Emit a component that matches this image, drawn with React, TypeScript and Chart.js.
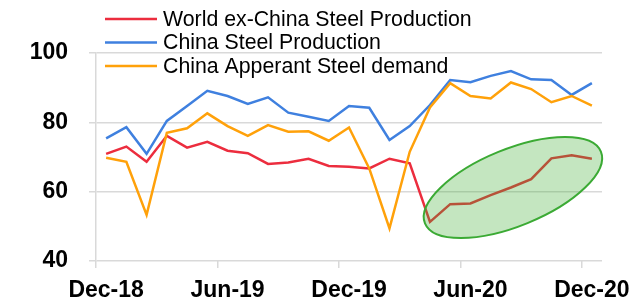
import React, { useEffect, useRef } from "react";
import { Chart, registerables } from "chart.js";

Chart.register(...registerables);

const months = [
  "Dec-18", "Jan-19", "Feb-19", "Mar-19", "Apr-19", "May-19", "Jun-19",
  "Jul-19", "Aug-19", "Sep-19", "Oct-19", "Nov-19", "Dec-19",
  "Jan-20", "Feb-20", "Mar-20", "Apr-20", "May-20", "Jun-20",
  "Jul-20", "Aug-20", "Sep-20", "Oct-20", "Nov-20", "Dec-20",
];

const worldExChina = [
  70.9, 73.0, 68.6, 76.1, 72.7, 74.4, 71.8, 71.1, 68.0, 68.4, 69.5, 67.4, 67.2,
  66.7, 69.5, 68.2, 51.3, 56.4, 56.6, 59.0, 61.2, 63.6, 69.6, 70.5, 69.5,
];

const chinaProduction = [
  75.4, 78.6, 70.9, 80.4, 84.7, 89.1, 87.6, 85.3, 87.2, 82.8, 81.6, 80.4, 84.7,
  84.2, 74.9, 78.9, 85.0, 92.2, 91.6, 93.4, 94.8, 92.4, 92.2, 87.9, 91.3,
];

const chinaDemand = [
  69.8, 68.6, 53.3, 77.0, 78.3, 82.6, 78.9, 76.1, 79.2, 77.3, 77.4, 74.7, 78.5,
  66.7, 49.4, 71.5, 84.3, 91.3, 87.6, 86.9, 91.5, 89.6, 85.8, 87.6, 84.8,
];

const seriesNames = [
  "World ex-China Steel Production",
  "China Steel Production",
  "China Apperant Steel demand",
];

const yTicks = [40, 60, 80, 100];

// highlighted region (centre in data coordinates)
const highlightCenterIndex = 20.1;
const highlightCenterValue = 61.2;

const FONT = "'Liberation Sans', Arial, sans-serif";
const RED = "#EC2D3E";
const BLUE = "#3F80DF";
const ORANGE = "#FFA10A";
const GRID = "#d9d9d9";

const ellipsePlugin = {
  id: "highlightEllipse",
  afterDatasetsDraw(chart: any) {
    const { ctx, scales } = chart;
    const cx = scales.x.getPixelForValue(highlightCenterIndex);
    const cy = scales.y.getPixelForValue(highlightCenterValue);
    ctx.save();
    ctx.beginPath();
    ctx.ellipse(cx, cy, 95, 38.5, (-22.2 * Math.PI) / 180, 0, Math.PI * 2);
    ctx.fillStyle = "rgba(60,172,45,0.3)";
    ctx.fill();
    ctx.lineWidth = 2;
    ctx.strokeStyle = "#3BAA34";
    ctx.stroke();
    ctx.restore();
  },
};

const legendPlugin = {
  id: "overlayLegend",
  afterDraw(chart: any) {
    const { ctx } = chart;
    ctx.save();
    chart.data.datasets.forEach((ds: any, i: number) => {
      const y = 19 + i * 23.5;
      ctx.beginPath();
      ctx.moveTo(105, y);
      ctx.lineTo(157, y);
      ctx.lineWidth = 2.5;
      ctx.strokeStyle = ds.borderColor;
      ctx.stroke();
      ctx.fillStyle = "#000";
      ctx.font = `21.3px ${FONT}`;
      ctx.textBaseline = "middle";
      ctx.textAlign = "left";
      ctx.fillText(ds.label, 163, y + 1);
    });
    ctx.restore();
  },
};

export default function App() {
  const canvasRef = useRef<HTMLCanvasElement | null>(null);

  useEffect(() => {
    const canvas = canvasRef.current;
    if (!canvas) return;
    const chart = new Chart(canvas, {
      type: "line",
      data: {
        labels: months,
        datasets: [
          {
            label: seriesNames[0],
            data: worldExChina,
            borderColor: RED,
            backgroundColor: RED,
            borderWidth: 2.5,
            pointRadius: 0,
            tension: 0,
            order: 3,
          },
          {
            label: seriesNames[1],
            data: chinaProduction,
            borderColor: BLUE,
            backgroundColor: BLUE,
            borderWidth: 2.5,
            pointRadius: 0,
            tension: 0,
            order: 2,
          },
          {
            label: seriesNames[2],
            data: chinaDemand,
            borderColor: ORANGE,
            backgroundColor: ORANGE,
            borderWidth: 2.5,
            pointRadius: 0,
            tension: 0,
            order: 1,
          },
        ],
      },
      options: {
        animation: false,
        responsive: false,
        devicePixelRatio: 1,
        layout: { padding: { top: 53, right: 31, left: 0, bottom: 0 } },
        plugins: {
          legend: { display: false },
          tooltip: { enabled: false },
        },
        scales: {
          x: {
            type: "category",
            offset: true,
            grid: {
              offset: true,
              drawOnChartArea: false,
              drawTicks: true,
              tickLength: 7,
              lineWidth: 1.5,
              color: (c: any) =>
                typeof c.index === "number" && c.index % 6 === 0 ? GRID : "rgba(0,0,0,0)",
            },
            border: { display: false },
            ticks: {
              autoSkip: false,
              maxRotation: 0,
              minRotation: 0,
              padding: 9,
              color: "#000",
              font: { family: FONT, size: 23, weight: "bold" },
              callback: (_v: any, i: number) => (i % 6 === 0 ? months[i] : ""),
            },
            afterFit: (s: any) => {
              s.height = 41;
              s.paddingLeft = 0;
              s.paddingRight = 0;
            },
          },
          y: {
            min: yTicks[0],
            max: yTicks[yTicks.length - 1],
            afterBuildTicks: (s: any) => {
              s.ticks = yTicks.map((v) => ({ value: v }));
            },
            grid: { color: GRID, lineWidth: 1.5, tickLength: 7 },
            border: { display: true, color: GRID, width: 1.5 },
            ticks: {
              padding: 21,
              color: "#000",
              font: { family: FONT, size: 23, weight: "bold" },
            },
            afterFit: (s: any) => {
              s.width = 96;
              s.paddingTop = 0;
              s.paddingBottom = 0;
            },
          },
        },
      },
      plugins: [ellipsePlugin, legendPlugin],
    });
    return () => chart.destroy();
  }, []);

  return (
    <div style={{ position: "absolute", left: 0, top: 0, width: 633, height: 302, background: "#fff" }}>
      <canvas ref={canvasRef} width={633} height={302} />
    </div>
  );
}
